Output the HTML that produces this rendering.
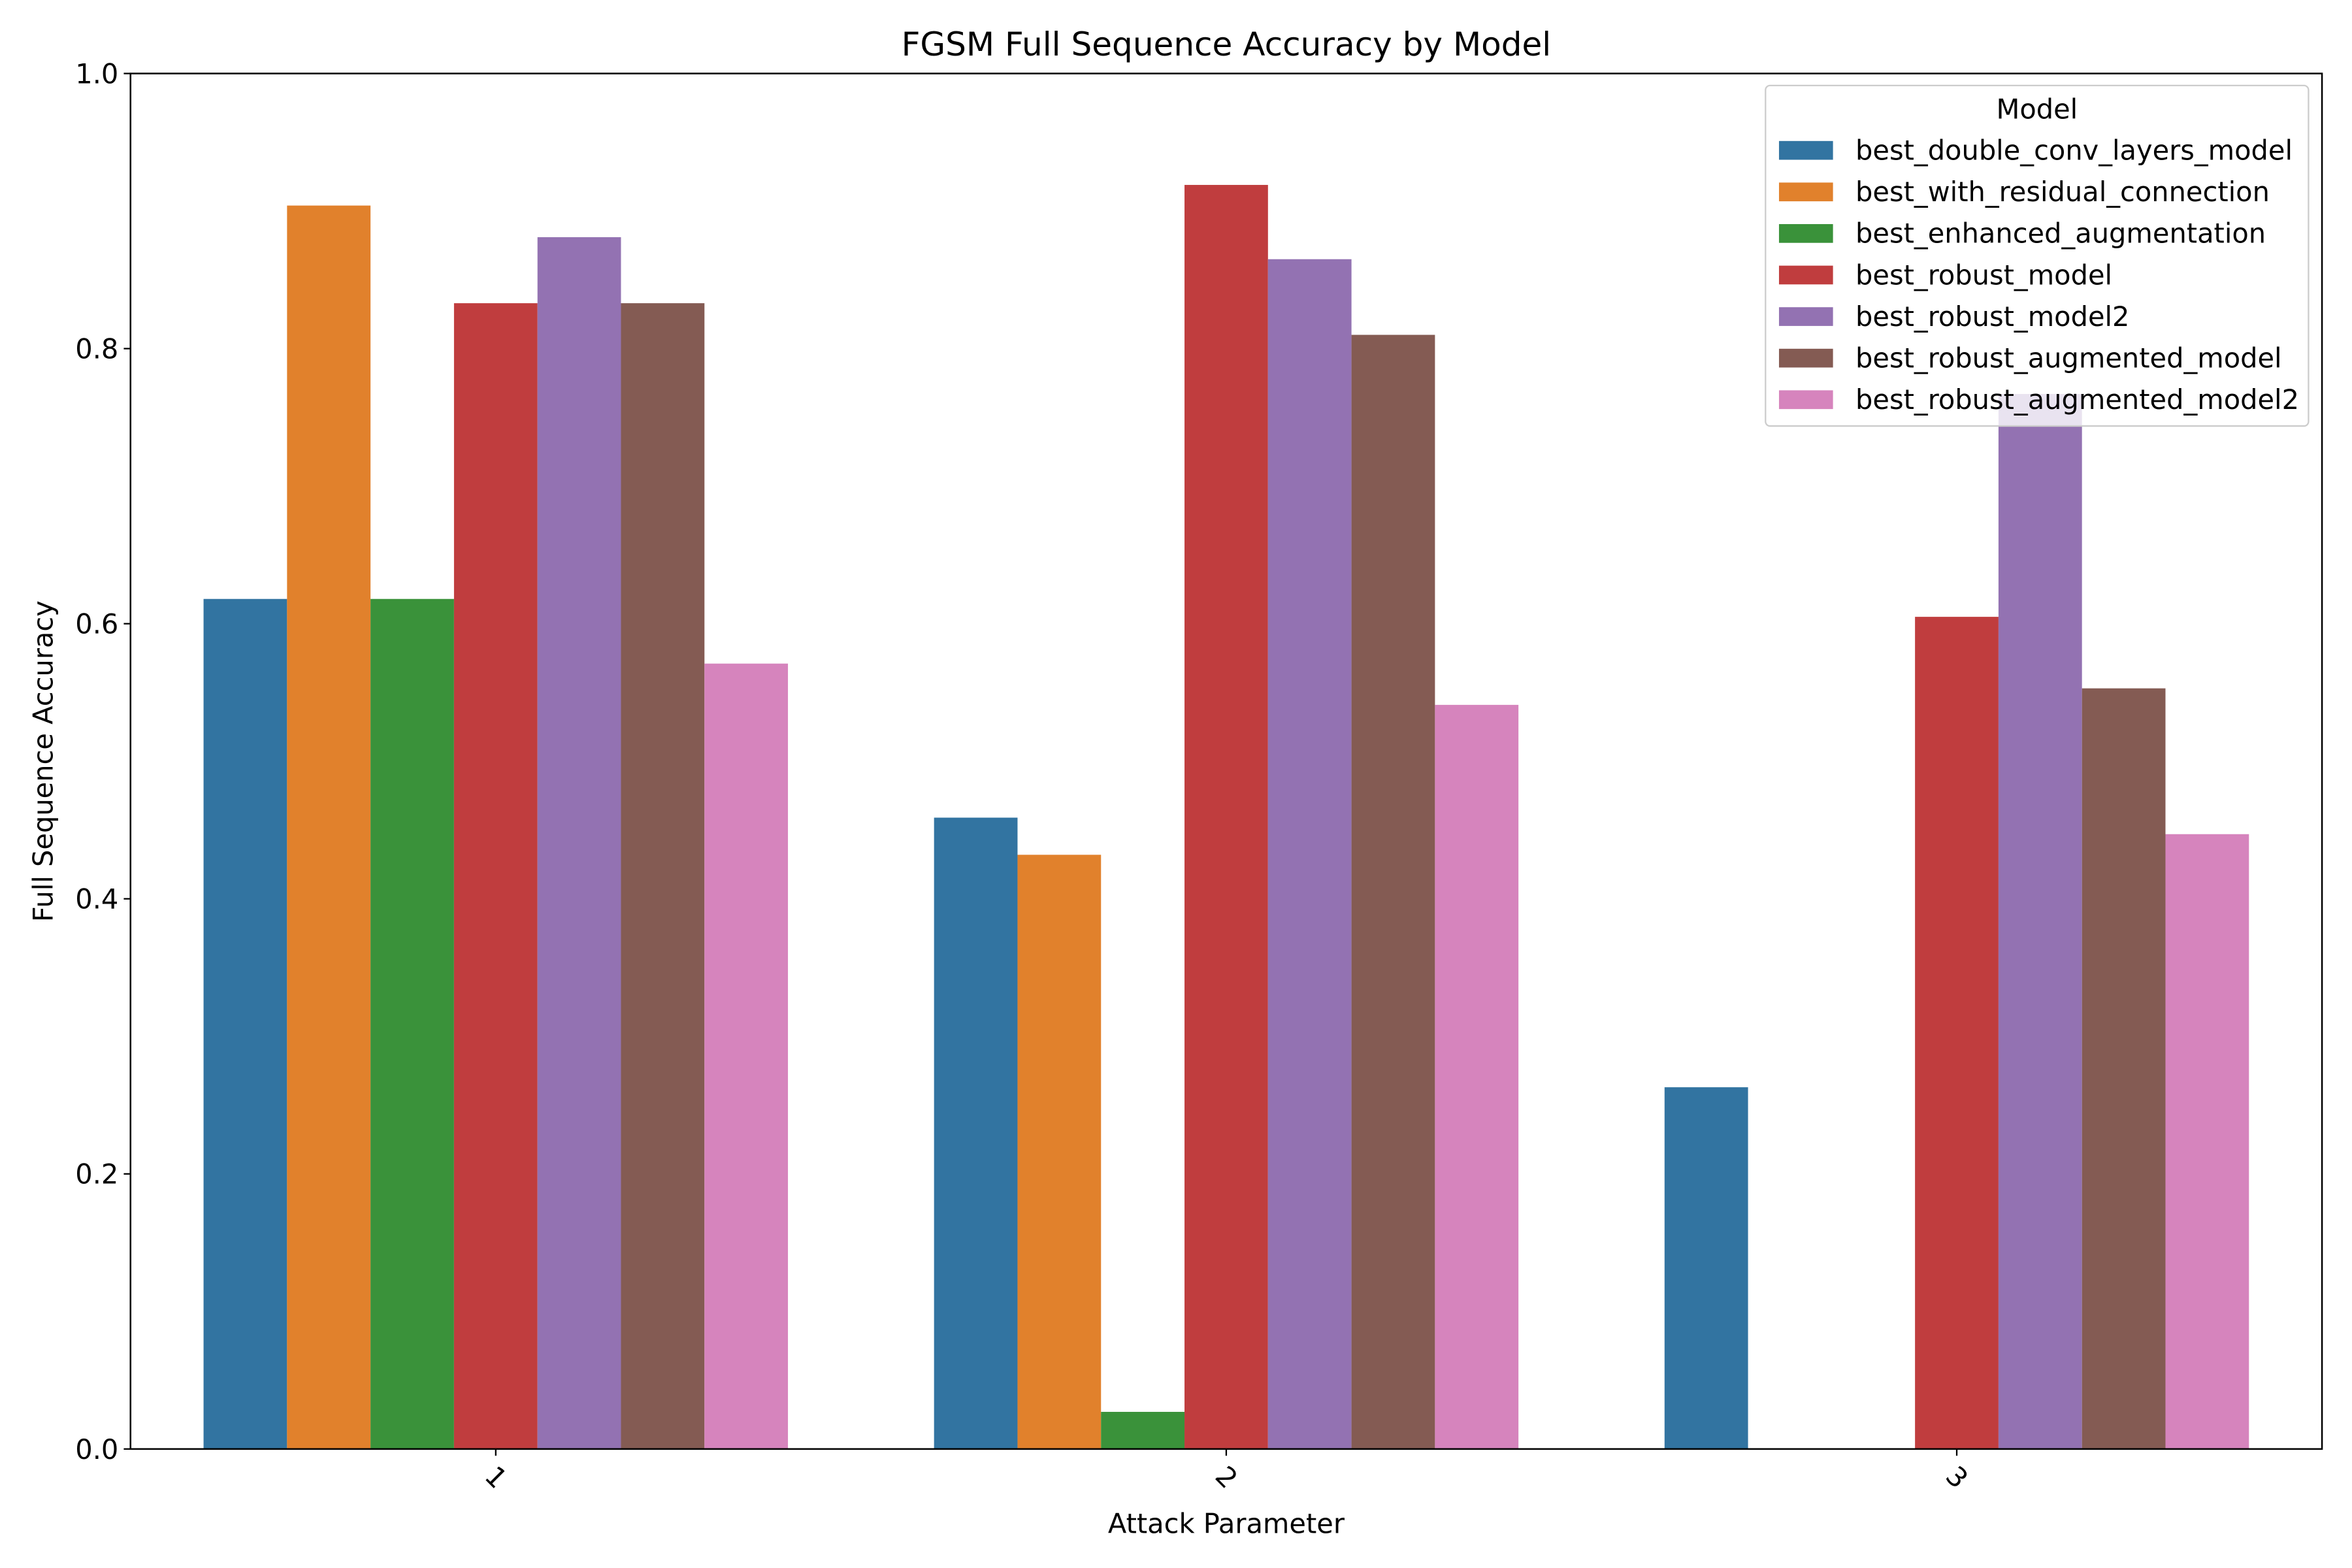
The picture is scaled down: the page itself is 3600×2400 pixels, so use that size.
<!DOCTYPE html>
<html><head><meta charset="utf-8"><style>html,body{margin:0;padding:0;background:#fff}svg{display:block}</style></head>
<body>
<svg id="chart" xmlns="http://www.w3.org/2000/svg" width="3600" height="2400" viewBox="0 0 1568 1045.33" font-family="'DejaVu Sans','Liberation Sans',sans-serif">
<rect width="1568" height="1046" fill="#fff"/>
<g id="bars"></g>
<g id="axes"></g>
<g id="legend"></g>
</svg>
<script>
const categories = ["1", "2", "3"];
const models = ["best_double_conv_layers_model","best_with_residual_connection","best_enhanced_augmentation","best_robust_model","best_robust_model2","best_robust_augmented_model","best_robust_augmented_model2"];
const colors = ["#3274a1","#e1812c","#3a923a","#c03d3e","#9372b2","#845b53","#d684bd"];
const valuesDoubleConv = [0.618, 0.459, 0.263];
const valuesResidual = [0.904, 0.432, 0];
const valuesEnhanced = [0.618, 0.027, 0];
const valuesRobust = [0.833, 0.919, 0.605];
const valuesRobust2 = [0.881, 0.865, 0.767];
const valuesRobustAug = [0.833, 0.810, 0.553];
const valuesRobustAug2 = [0.571, 0.541, 0.447];
const series = [valuesDoubleConv, valuesResidual, valuesEnhanced, valuesRobust, valuesRobust2, valuesRobustAug, valuesRobustAug2];
const yTicks = [0.0, 0.2, 0.4, 0.6, 0.8, 1.0];
const yTickLabels = ["0.0","0.2","0.4","0.6","0.8","1.0"];

const NS = "http://www.w3.org/2000/svg";
const L = 87, R = 1548, T = 49, B = 966;
const FS = 18.1;
const xScale = v => L + (v + 0.5) / categories.length * (R - L);
const yScale = v => B - v * (B - T);
function mk(tag, attrs, parent, text) {
  const e = document.createElementNS(NS, tag);
  for (const k in attrs) e.setAttribute(k, attrs[k]);
  if (text !== undefined) e.textContent = text;
  parent.appendChild(e);
  return e;
}
const bars = document.getElementById('bars');
const axes = document.getElementById('axes');
const legend = document.getElementById('legend');
const groupW = 0.8, bw = groupW / models.length;
series.forEach((vals, si) => {
  vals.forEach((v, ci) => {
    const x0 = xScale(ci - groupW / 2 + si * bw), x1 = xScale(ci - groupW / 2 + (si + 1) * bw);
    const r = mk('rect', {x: x0, y: yScale(v), width: x1 - x0, height: yScale(0) - yScale(v), fill: colors[si]}, bars);
    
    
  });
});
const frame = mk('rect', {x: L, y: T, width: R - L, height: B - T, fill: 'none', stroke: '#000', 'stroke-width': 1.1}, axes);


yTicks.forEach((t, i) => {
  const y = yScale(t);
  mk('line', {x1: L - 4.5, x2: L, y1: y, y2: y, stroke: '#000', 'stroke-width': 1}, axes);
  const tx = mk('text', {x: L - 8, y: y + 6.5, 'text-anchor': 'end', 'font-size': FS}, axes, yTickLabels[i]);
  
  
});
categories.forEach((c, i) => {
  const x = xScale(i);
  mk('line', {x1: x, x2: x, y1: B, y2: B + 4.5, stroke: '#000', 'stroke-width': 1}, axes);
  const tx = mk('text', {x: x, y: B + 25, 'text-anchor': 'middle', 'font-size': FS, transform: 'rotate(45 ' + x + ' ' + (B + 19) + ')'}, axes, c);
  
  
});
const title = mk('text', {x: (L + R) / 2, y: 37, 'text-anchor': 'middle', 'font-size': 21.8}, axes, 'FGSM Full Sequence Accuracy by Model');


const xl = mk('text', {x: (L + R) / 2, y: 1022, 'text-anchor': 'middle', 'font-size': FS}, axes, 'Attack Parameter');


const yl = mk('text', {x: 35, y: (T + B) / 2, 'text-anchor': 'middle', 'font-size': FS, transform: 'rotate(-90 35 ' + (T + B) / 2 + ')'}, axes, 'Full Sequence Accuracy');


const lb = mk('rect', {x: 1177, y: 57, width: 362, height: 227, rx: 3, fill: 'rgba(255,255,255,0.8)', stroke: '#ccc', 'stroke-width': 1}, legend);


const lt = mk('text', {x: 1358, y: 79, 'text-anchor': 'middle', 'font-size': FS}, legend, 'Model');


models.forEach((m, i) => {
  const y = 100 + i * 27.7;
  const g = mk('g', {}, legend);
  
  
  mk('rect', {x: 1186, y: y - 6, width: 36, height: 12.5, fill: colors[i]}, g);
  mk('text', {x: 1237, y: y + 6.5, 'font-size': FS}, g, m);
});
</script>
</body></html>
